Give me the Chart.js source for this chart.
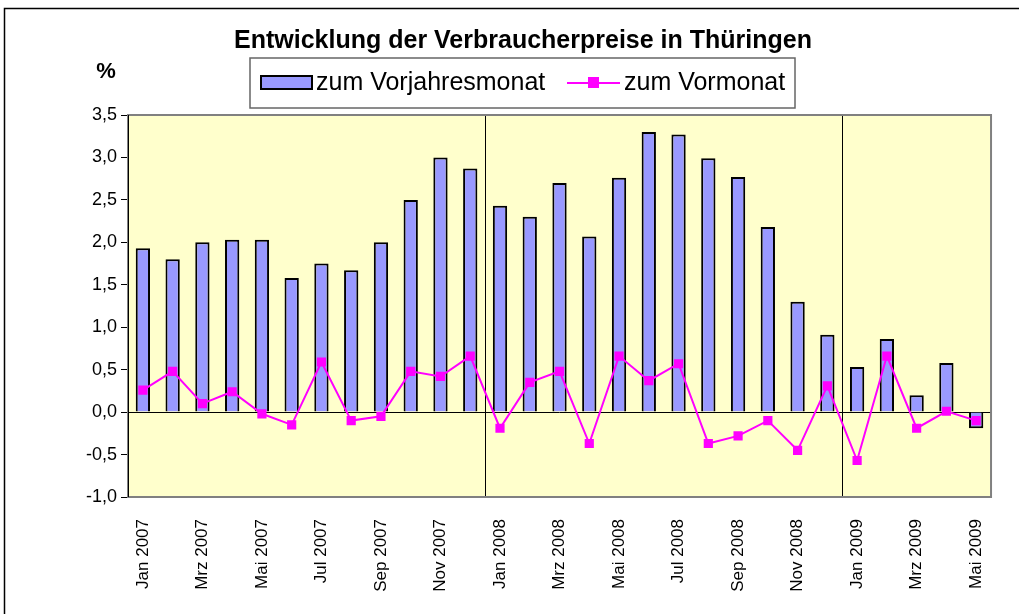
<!DOCTYPE html>
<html>
<head>
<meta charset="utf-8">
<script src="https://cdn.jsdelivr.net/npm/chart.js@4/dist/chart.umd.min.js"></script>
<style>
  html, body { margin: 0; padding: 0; background: #fff; }
  #wrap { width: 1019px; height: 614px; position: relative; }
</style>
</head>
<body>
<div id="wrap"><canvas id="cpi"></canvas></div>
<script>
// Verbraucherpreise Thüringen, Jan 2007 - Mai 2009

const months = [
  'Jan 2007', 'Feb 2007', 'Mrz 2007', 'Apr 2007', 'Mai 2007', 'Jun 2007',
  'Jul 2007', 'Aug 2007', 'Sep 2007', 'Okt 2007', 'Nov 2007', 'Dez 2007',
  'Jan 2008', 'Feb 2008', 'Mrz 2008', 'Apr 2008', 'Mai 2008', 'Jun 2008',
  'Jul 2008', 'Aug 2008', 'Sep 2008', 'Okt 2008', 'Nov 2008', 'Dez 2008',
  'Jan 2009', 'Feb 2009', 'Mrz 2009', 'Apr 2009', 'Mai 2009',
];
const vorjahresmonat = [
  1.93, 1.80, 2.00, 2.03, 2.03, 1.58, 1.75, 1.67, 2.00, 2.50, 3.00, 2.87,
  2.43, 2.30, 2.70, 2.07, 2.76, 3.30, 3.27, 2.99, 2.77, 2.18, 1.30, 0.91,
  0.53, 0.86, 0.20, 0.58, -0.19,
];
const vormonat = [
  0.26, 0.48, 0.10, 0.24, -0.02, -0.15, 0.59, -0.10, -0.05, 0.48, 0.42, 0.66,
  -0.19, 0.35, 0.48, -0.37, 0.66, 0.37, 0.57, -0.37, -0.28, -0.10, -0.45, 0.31,
  -0.57, 0.66, -0.19, 0.01, -0.10,
];
const yearStarts = ['Jan 2008', 'Jan 2009'];

const FONT = "Arial, 'Liberation Sans', sans-serif";
const fmt = v => v.toFixed(1).replace('.', ',');

// background, frame, title and legend box
const decor = {
  id: 'decor',
  beforeDraw(chart) {
    const { ctx, chartArea: a } = chart;
    ctx.save();
    ctx.fillStyle = '#FFFFCC';
    ctx.fillRect(a.left, a.top, a.right - a.left, a.bottom - a.top);
    ctx.restore();
  },
  afterDraw(chart) {
    const { ctx, chartArea: a } = chart;
    ctx.save();
    // plot frame
    ctx.strokeStyle = '#808080';
    ctx.lineWidth = 2;
    ctx.strokeRect(a.left, a.top, a.right - a.left, a.bottom - a.top);
    ctx.strokeStyle = '#000';
    ctx.lineWidth = 1;
    ctx.beginPath();
    ctx.moveTo(a.left + 0.5, a.top);
    ctx.lineTo(a.left + 0.5, a.bottom);
    ctx.stroke();
    // outer frame
    ctx.strokeStyle = '#000';
    ctx.lineWidth = 1.5;
    ctx.strokeRect(4.5, 8.5, 1100, 700);

    // title and unit
    ctx.fillStyle = '#000';
    ctx.textBaseline = 'middle';
    ctx.textAlign = 'center';
    ctx.font = 'bold 25px ' + FONT;
    ctx.fillText('Entwicklung der Verbraucherpreise in Thüringen', 523, 41);
    ctx.font = 'bold 22px ' + FONT;
    ctx.fillText('%', 106, 72);

    // legend
    ctx.fillStyle = '#fff';
    ctx.fillRect(250, 58, 545, 50);
    ctx.strokeStyle = '#666';
    ctx.lineWidth = 1.5;
    ctx.strokeRect(250, 58, 545, 50);

    ctx.fillStyle = '#9999FF';
    ctx.fillRect(261, 76, 51, 13);
    ctx.strokeStyle = '#000';
    ctx.lineWidth = 2;
    ctx.strokeRect(261, 76, 51, 13);

    ctx.strokeStyle = '#FF00FF';
    ctx.lineWidth = 2;
    ctx.beginPath();
    ctx.moveTo(567, 83);
    ctx.lineTo(620, 83);
    ctx.stroke();
    ctx.fillStyle = '#FF00FF';
    ctx.fillRect(588, 77, 11, 11);

    ctx.fillStyle = '#000';
    ctx.textAlign = 'left';
    ctx.font = '25px ' + FONT;
    ctx.fillText('zum Vorjahresmonat', 316, 83);
    ctx.fillText('zum Vormonat', 624, 83);
    ctx.restore();
  },
};

new Chart(document.getElementById('cpi'), {
  data: {
    labels: months,
    datasets: [
      {
        type: 'line',
        label: 'zum Vormonat',
        data: vormonat,
        borderColor: '#FF00FF',
        backgroundColor: '#FF00FF',
        borderWidth: 2,
        pointStyle: 'rect',
        pointRadius: 6.5,
        pointHoverRadius: 6.5,
        pointBorderWidth: 0,
        tension: 0,
        order: 0,
      },
      {
        type: 'bar',
        label: 'zum Vorjahresmonat',
        data: vorjahresmonat,
        backgroundColor: '#9999FF',
        borderColor: '#000',
        borderWidth: 2,
        barPercentage: 0.48,
        categoryPercentage: 1,
        order: 1,
      },
    ],
  },
  options: {
    responsive: true,
    maintainAspectRatio: false,
    animation: false,
    layout: { padding: { top: 115, right: 26, bottom: 0, left: 0 } },
    plugins: {
      legend: { display: false },
      title: { display: false },
      tooltip: { enabled: false },
    },
    scales: {
      x: {
        offset: true,
        grid: {
          offset: true,
          drawTicks: false,
          color: ctx => (ctx.index !== undefined && yearStarts.includes(months[ctx.index])) ? '#000' : 'transparent',
          lineWidth: 1,
        },
        border: { display: false },
        ticks: {
          autoSkip: false,
          minRotation: 90,
          maxRotation: 90,
          padding: 22,
          color: '#000',
          font: { family: FONT, size: 17 },
          callback: (v, i) => (i % 2 === 0 ? months[i] : ''),
        },
        afterFit: s => { s.height = 117; },
      },
      y: {
        min: -1,
        max: 3.5,
        ticks: {
          stepSize: 0.5,
          color: '#000',
          padding: 4,
          font: { family: FONT, size: 18 },
          callback: v => fmt(v),
        },
        grid: {
          color: ctx => (ctx.tick && ctx.tick.value === 0 ? '#000' : 'transparent'),
          tickColor: '#000',
          tickLength: 7,
          lineWidth: 1,
        },
        border: { display: false },
        afterFit: s => { s.width = 128; },
      },
    },
  },
  plugins: [decor],
});
</script>
</body>
</html>
